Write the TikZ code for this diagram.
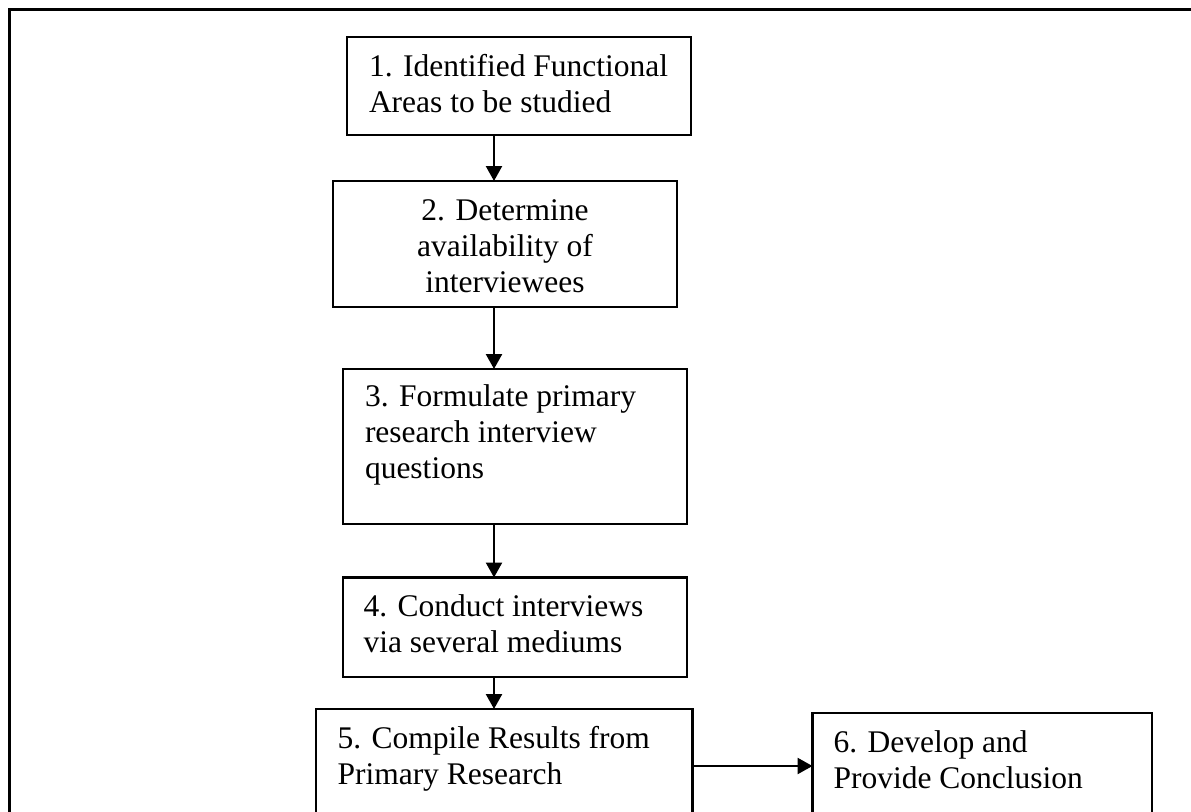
\documentclass[tikz,border=0pt]{standalone}
\usepackage{fontspec}
\setmainfont{Liberation Serif}
\usetikzlibrary{arrows.meta}
\begin{document}
\begin{tikzpicture}[x=1pt,y=-1pt,
  box/.style={draw=black,line width=2.4pt,rectangle,inner sep=0pt,outer sep=0pt,anchor=north west},
  txt/.style={inner sep=0pt,outer sep=0pt,anchor=base west,font=\fontsize{31.5}{36}\selectfont},
  ctxt/.style={txt,anchor=base},
  arr/.style={line width=2.4pt,-{Triangle[length=15pt,width=16pt]}}]
\useasboundingbox (0,0) rectangle (1191,811);
\fill[white] (0,0) rectangle (1191,811);
\clip (0,0) rectangle (1191,811);
\draw[line width=3.2pt] (9.5,9.5) rectangle (1220,860);
% boxes
\node[box,minimum width=344pt,minimum height=98pt] (b1) at (347,37) {};
\node[box,minimum width=344pt,minimum height=126pt] (b2) at (333,181) {};
\node[box,minimum width=344pt,minimum height=155pt] (b3) at (343,369) {};
\node[box,minimum width=344pt,minimum height=99.5pt] (b4) at (343,577.5) {};
\node[box,minimum width=376.5pt,minimum height=160pt] (b5) at (316,709) {};
\node[box,minimum width=339.5pt,minimum height=160pt] (b6) at (812.5,713) {};
% texts
\node[txt] (t1a) at (369,76) {1. Identified Functional};
\node[txt] (t1b) at (369,112) {Areas to be studied};
\node[ctxt] (t2a) at (505,220) {2. Determine};
\node[ctxt] (t2b) at (505,256) {availability of};
\node[ctxt] (t2c) at (505,292) {interviewees};
\node[txt] (t3a) at (365,406.5) {3. Formulate primary};
\node[txt] (t3b) at (365,442.5) {research interview};
\node[txt] (t3c) at (365,478.5) {questions};
\node[txt] (t4a) at (363.5,616.5) {4. Conduct interviews};
\node[txt] (t4b) at (363.5,652.5) {via several mediums};
\node[txt] (t5a) at (337.5,748) {5. Compile Results from};
\node[txt] (t5b) at (337.5,784) {Primary Research};
\node[txt] (t6a) at (833.5,752.5) {6. Develop and};
\node[txt] (t6b) at (833.5,788.5) {Provide Conclusion};
% connectors
\coordinate (ax) at (494,0);
\coordinate (ay) at (0,766);
\draw[arr] (b1.south -| ax) -- (b2.north -| ax);
\draw[arr] (b2.south -| ax) -- (b3.north -| ax);
\draw[arr] (b3.south -| ax) -- (b4.north -| ax);
\draw[arr] (b4.south -| ax) -- (b5.north -| ax);
\draw[arr] (b5.east |- ay) -- (b6.west |- ay);
\end{tikzpicture}
\end{document}
